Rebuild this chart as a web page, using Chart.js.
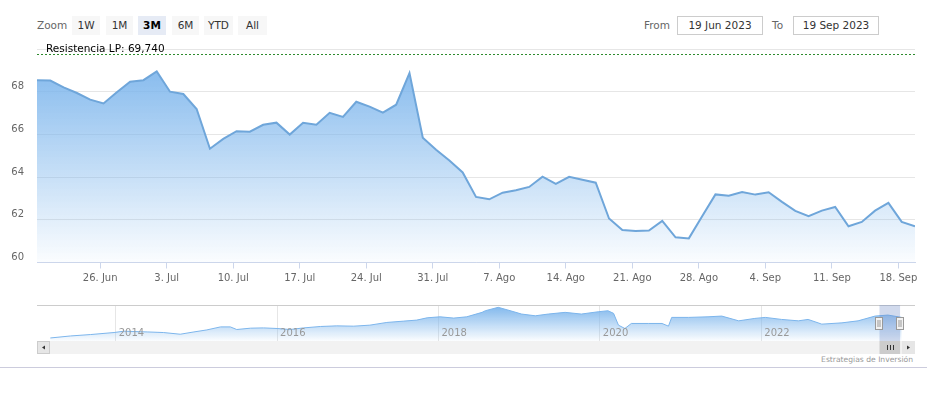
<!DOCTYPE html>
<html>
<head>
<meta charset="utf-8">
<title>Cotización</title>
<script src="https://cdn.jsdelivr.net/npm/chart.js@4.4.0/dist/chart.umd.min.js"></script>
<style>
  body { margin: 0; background: #fff; font-family: "DejaVu Sans", Verdana, sans-serif; }
  #wrap { position: relative; width: 927px; height: 393px; overflow: hidden; }
  .lbl { position: absolute; font-size: 10.5px; color: #666; line-height: 19px; top: 16px; }
  .btn { position: absolute; top: 16px; height: 19px; line-height: 19px; text-align: center;
         font-size: 10.5px; color: #333; background: #f7f7f7; }
  .btn.sel { background: #e6ebf5; font-weight: bold; color: #000; }
  .box { position: absolute; top: 16px; height: 17px; line-height: 17px; border: 1px solid #ccc;
         text-align: center; font-size: 10.5px; color: #333; }
  #main { position: absolute; left: 0; top: 30px; }
  #nav { position: absolute; left: 0; top: 300px; }
  #credits { position: absolute; right: 14px; top: 355px; font-size: 7.6px; color: #999; }
  #sep { position: absolute; left: 0; top: 367px; width: 927px; height: 1px; background: #ccccdd; }
</style>
</head>
<body>
<div id="wrap">
  <div class="lbl" style="left:37px">Zoom</div>
  <div class="btn" style="left:72px;width:28px">1W</div>
  <div class="btn" style="left:106px;width:27px">1M</div>
  <div class="btn sel" style="left:138px;width:28px">3M</div>
  <div class="btn" style="left:172px;width:27px">6M</div>
  <div class="btn" style="left:204px;width:29px">YTD</div>
  <div class="btn" style="left:238px;width:29px">All</div>
  <div class="lbl" style="left:644px">From</div>
  <div class="box" style="left:677px;width:84px">19 Jun 2023</div>
  <div class="lbl" style="left:772px">To</div>
  <div class="box" style="left:793px;width:84px">19 Sep 2023</div>

  <canvas id="main" width="927" height="260"></canvas>
  <canvas id="nav" width="927" height="54"></canvas>
  <div id="credits">Estrategias de Inversión</div>
  <div id="sep"></div>
</div>

<script>
// daily closes, 19 Jun 2023 - 19 Sep 2023 (trading days only)
const prices = [68.54, 68.52, 68.20, 67.94, 67.63, 67.45, 67.97, 68.47, 68.54, 68.95,
  68.00, 67.89, 67.19, 65.33, 65.79, 66.15, 66.13, 66.45, 66.55, 65.99,
  66.54, 66.45, 67.01, 66.82, 67.53, 67.30, 67.02, 67.39, 68.87, 65.84,
  65.28, 64.78, 64.22, 63.07, 62.96, 63.27, 63.38, 63.54, 64.02, 63.68,
  64.01, 63.88, 63.74, 62.06, 61.52, 61.48, 61.50, 61.95, 61.18, 61.13,
  62.17, 63.19, 63.13, 63.30, 63.18, 63.29, 62.84, 62.42, 62.17, 62.43,
  62.60, 61.70, 61.90, 62.43, 62.79, 61.90, 61.70];

// weekly ticks (Mondays) and their index in the trading-day series
const tickLabels = ['26. Jun', '3. Jul', '10. Jul', '17. Jul', '24. Jul', '31. Jul',
  '7. Ago', '14. Ago', '21. Ago', '28. Ago', '4. Sep', '11. Sep', '18. Sep'];
const tickIndex = [5, 10, 15, 20, 25, 30, 35, 40, 45, 50, 55, 60, 65];

const resistance = 69.74;

// navigator: full history
const navYears = [2013.19, 2013.44, 2013.69, 2013.98, 2014.10, 2014.39, 2014.59, 2014.80, 2014.97, 2015.13,
  2015.30, 2015.42, 2015.50, 2015.67, 2015.83, 2016.00, 2016.16, 2016.33, 2016.54, 2016.74,
  2016.95, 2017.15, 2017.36, 2017.57, 2017.73, 2017.86, 2018.02, 2018.19, 2018.35, 2018.54,
  2018.58, 2018.74, 2018.86, 2019.03, 2019.20, 2019.36, 2019.57, 2019.77, 2019.98, 2020.10,
  2020.17, 2020.23, 2020.31, 2020.39, 2020.60, 2020.77, 2020.85, 2020.89, 2021.10, 2021.34,
  2021.51, 2021.72, 2021.92, 2022.05, 2022.25, 2022.46, 2022.58, 2022.75, 2023.00, 2023.20,
  2023.41, 2023.57, 2023.74];
const navValues = [11.0, 16.0, 19.5, 24.5, 27.8, 26.0, 24.5, 20.3, 26.0, 31.0,
  38.5, 38.5, 32.0, 35.3, 36.0, 34.5, 32.0, 36.0, 39.5, 41.0,
  40.3, 42.8, 49.5, 52.8, 55.3, 61.0, 63.5, 60.3, 63.5, 74.5,
  78.5, 87.0, 80.3, 70.3, 66.0, 70.3, 74.5, 70.3, 76.0, 78.5,
  72.0, 42.8, 34.5, 47.0, 47.0, 47.0, 40.3, 62.0, 62.0, 63.5,
  65.3, 53.5, 59.5, 62.0, 57.0, 53.5, 57.0, 45.3, 48.5, 53.5,
  65.3, 67.8, 62.0];
const navTicks = [2014, 2016, 2018, 2020, 2022];
const selFrom = 2023.465, selTo = 2023.72;

const FONT = '"DejaVu Sans", Verdana, sans-serif';

function fillGrad(context, alphaTop) {
  const chart = context.chart;
  const area = chart.chartArea;
  if (!area) return 'rgba(124,181,236,0.5)';
  const g = chart.ctx.createLinearGradient(0, area.top, 0, area.bottom);
  g.addColorStop(0, 'rgba(124,181,236,' + alphaTop + ')');
  g.addColorStop(1, 'rgba(124,181,236,0.03)');
  return g;
}

const resistPlugin = {
  id: 'resist',
  afterDatasetsDraw(chart) {
    const ctx = chart.ctx, a = chart.chartArea;
    const y = Math.round(chart.scales.y.getPixelForValue(resistance)) - 0.5;
    ctx.save();
    ctx.strokeStyle = '#2e8b2e';
    ctx.lineWidth = 1;
    ctx.setLineDash([2, 2]);
    ctx.beginPath();
    ctx.moveTo(a.left, y);
    ctx.lineTo(a.right, y);
    ctx.stroke();
    ctx.setLineDash([]);
    ctx.fillStyle = '#000';
    ctx.font = '10.5px ' + FONT;
    ctx.textBaseline = 'alphabetic';
    ctx.fillText('Resistencia LP: ' + resistance.toFixed(3).replace('.', ','), a.left + 9, y - 3);
    ctx.restore();
  }
};

new Chart(document.getElementById('main'), {
  type: 'line',
  data: {
    datasets: [{
      data: prices.map((v, i) => ({ x: i, y: v })),
      borderColor: '#6fa6da',
      borderWidth: 2,
      pointRadius: 0,
      tension: 0,
      fill: 'start',
      backgroundColor: c => fillGrad(c, 1)
    }]
  },
  options: {
    responsive: false,
    animation: false,
    events: [],
    layout: { padding: { top: 18, right: 12, left: 0, bottom: 0 } },
    plugins: { legend: { display: false }, tooltip: { enabled: false } },
    scales: {
      x: {
        type: 'linear', min: 0, max: prices.length - 1,
        afterBuildTicks: s => { s.ticks = tickIndex.map(i => ({ value: i - 0.25 })); },
        afterFit: s => { s.height = 27.5; },
        ticks: { autoSkip: false, maxRotation: 0, color: '#666', padding: 4,
                 font: { family: FONT, size: 10 },
                 callback: (v, i) => tickLabels[i] },
        grid: { drawOnChartArea: false, tickLength: 6, color: '#ccd6eb' },
        border: { color: '#ccd6eb' }
      },
      y: {
        min: 60, max: 70,
        afterFit: s => { s.width = 37; },
        ticks: { stepSize: 2, padding: 13, color: '#666', labelOffset: -5,
                 font: { family: FONT, size: 10 },
                 callback: v => (v === 70 ? '' : v) },
        grid: { color: '#e6e6e6', drawTicks: false },
        border: { display: false }
      }
    }
  },
  plugins: [resistPlugin]
});

const navPlugin = {
  id: 'navExtras',
  afterDraw(chart) {
    const ctx = chart.ctx, a = chart.chartArea, x = chart.scales.x;
    ctx.save();
    // top border
    ctx.fillStyle = '#cccccc';
    ctx.fillRect(a.left, a.top, a.right - a.left, 1);
    // year labels
    ctx.fillStyle = '#999';
    ctx.font = '10px ' + FONT;
    ctx.textBaseline = 'middle';
    navTicks.forEach(t => ctx.fillText(String(t), x.getPixelForValue(t) + 3, 33));
    // selected range mask
    const x1 = x.getPixelForValue(selFrom), x2 = x.getPixelForValue(selTo);
    ctx.fillStyle = 'rgba(102,133,194,0.3)';
    ctx.fillRect(x1, a.top, x2 - x1, a.bottom - a.top);
    // handles
    [x1, x2].forEach(hx => {
      const l = Math.round(hx) - 3.5;
      ctx.fillStyle = '#f2f2f2';
      ctx.fillRect(l, 17.5, 7, 12);
      ctx.strokeStyle = '#999';
      ctx.lineWidth = 1;
      ctx.strokeRect(l, 17.5, 7, 12);
      ctx.beginPath();
      ctx.moveTo(l + 2.5, 20); ctx.lineTo(l + 2.5, 27);
      ctx.moveTo(l + 4.5, 20); ctx.lineTo(l + 4.5, 27);
      ctx.stroke();
    });
    // scrollbar
    const sy = a.bottom, sh = 13;
    ctx.fillStyle = '#f2f2f2';
    ctx.fillRect(a.left, sy, a.right - a.left, sh);
    ctx.fillStyle = '#cccccc';
    ctx.fillRect(x1, sy, x2 - x1, sh);
    ctx.fillStyle = '#e6e6e6';
    ctx.fillRect(a.left, sy, 13, sh);
    ctx.fillRect(a.right - 13, sy, 13, sh);
    ctx.strokeStyle = '#cccccc';
    ctx.strokeRect(a.left + 0.5, sy + 0.5, 12, sh - 1);
    ctx.fillStyle = '#333';
    ctx.beginPath();
    ctx.moveTo(a.left + 5, sy + 6.5); ctx.lineTo(a.left + 8, sy + 4.5); ctx.lineTo(a.left + 8, sy + 8.5);
    ctx.fill();
    ctx.beginPath();
    ctx.moveTo(a.right - 5, sy + 6.5); ctx.lineTo(a.right - 8, sy + 4.5); ctx.lineTo(a.right - 8, sy + 8.5);
    ctx.fill();
    // grip
    ctx.strokeStyle = '#333';
    const gx = Math.round((x1 + x2) / 2) + 0.5;
    ctx.beginPath();
    [-3, 0, 3].forEach(d => { ctx.moveTo(gx + d, sy + 4); ctx.lineTo(gx + d, sy + 9); });
    ctx.stroke();
    ctx.restore();
  }
};

new Chart(document.getElementById('nav'), {
  type: 'line',
  data: {
    datasets: [{
      data: navYears.map((t, i) => ({ x: t, y: navValues[i] })),
      borderColor: '#7cb5ec',
      borderWidth: 1,
      pointRadius: 0,
      tension: 0,
      fill: 'start',
      backgroundColor: c => fillGrad(c, 1)
    }]
  },
  options: {
    responsive: false,
    animation: false,
    events: [],
    layout: { padding: { top: 5, right: 12, left: 37, bottom: 13 } },
    plugins: { legend: { display: false }, tooltip: { enabled: false } },
    scales: {
      x: {
        type: 'linear', min: 2013.025, max: 2023.905,
        afterBuildTicks: s => { s.ticks = navTicks.map(v => ({ value: v })); },
        afterFit: s => { s.height = 0; },
        ticks: { display: false },
        grid: { color: '#e6e6e6', drawTicks: false },
        border: { display: false }
      },
      y: { display: false, min: 3.5, max: 92.75 }
    }
  },
  plugins: [navPlugin]
});
</script>
</body>
</html>
